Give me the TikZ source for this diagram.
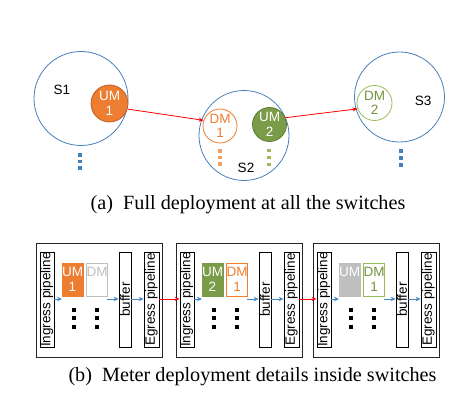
\documentclass[tikz,border=0pt]{standalone}
\usepackage{fontspec}
\setmainfont{Liberation Serif}
\newfontfamily\arialf{Liberation Sans}
\usetikzlibrary{arrows.meta}
\definecolor{sblue}{RGB}{70,128,188}
\definecolor{aorange}{RGB}{237,125,49}
\definecolor{aorangeD}{RGB}{190,95,40}
\definecolor{aorangeL}{RGB}{244,160,100}
\definecolor{agreen}{RGB}{122,155,72}
\definecolor{agreenD}{RGB}{95,125,50}
\definecolor{agreenL}{RGB}{155,187,89}
\definecolor{agreenT}{RGB}{118,146,60}
\definecolor{agray}{RGB}{191,191,191}
\definecolor{agrayD}{RGB}{170,170,170}
\definecolor{arrblue}{RGB}{65,135,200}
\begin{document}
\begin{tikzpicture}[x=1pt,y=-1pt,
  lab/.style={font=\arialf\fontsize{13.5}{15}\selectfont},
  sw/.style={circle,draw=sblue,line width=0.8pt,minimum size=#1,inner sep=0pt},
  mcirc/.style={circle,line width=0.8pt,minimum size=#1,inner sep=0pt,align=center,font=\arialf\fontsize{13.5}{14.5}\selectfont},
  vbox/.style={draw=black,line width=0.8pt,rotate=90,minimum width=95pt,minimum height=#1,inner sep=0pt,font=\arialf\fontsize{13.5}{15}\selectfont},
  mbox/.style={line width=0.9pt,minimum width=#1,minimum height=33pt,inner sep=0pt,align=center,font=\arialf\fontsize{13.5}{14.5}\selectfont},
  outer/.style={draw=black!85,line width=0.8pt,minimum width=126pt,minimum height=114pt,inner sep=0pt},
  sq/.style={rectangle,fill=#1,minimum size=3.6pt,inner sep=0pt},
  bsq/.style={rectangle,fill=black,minimum size=4pt,inner sep=0pt},
  redarr/.style={draw=red,line width=0.8pt,-{Stealth[length=5pt,width=4pt]}},
  bluearr/.style={draw=arrblue,line width=0.9pt,-{Stealth[length=5pt,width=4.5pt]}},
  captxt/.style={font=\fontsize{20.2}{24}\selectfont}
]
\useasboundingbox (0,0) rectangle (470,403);

% ---------- (a) ----------
\node[sw=94pt] (s1) at (81,98.5) {};
\node[sw=90pt] (s2) at (244,135.5) {};
\node[sw=90pt] (s3) at (399.5,97) {};
\node[lab] (s1l) at (62,90) {S1};
\node[lab] (s2l) at (246,168) {S2};
\node[lab] (s3l) at (423,101) {S3};

\node[mcirc=37pt,fill=aorange,draw=aorangeD,text=white] (um1) at (109.5,103.5) {UM\\1};
\node[mcirc=34pt,fill=white,draw=aorange,text=aorange] (dm1) at (220,126) {DM\\1};
\node[mcirc=34pt,fill=agreen,draw=agreenD,text=white] (um2) at (269.5,124.5) {UM\\2};
\node[mcirc=35pt,fill=white,draw=agreenL,text=agreenT] (dm2) at (374.5,103) {DM\\2};

\draw[redarr] (um1.-17) -- (dm1.161);
\draw[redarr] (um2.23) -- (dm2.199);

\foreach \y [count=\i] in {155,161.7,168.3}{\node[sq=sblue] (d1\i) at (80,\y) {};}
\foreach \y [count=\i] in {151,157.7,164.3}{\node[sq=aorangeL] (d2\i) at (220,\y) {};}
\foreach \y [count=\i] in {150.5,157.5,164.5}{\node[sq=agreenL] (d3\i) at (269,\y) {};}
\foreach \y [count=\i] in {151,158,165}{\node[sq=sblue] (d4\i) at (401,\y) {};}

\node[captxt] (capa) at (248,205) {(a)\ \ Full deployment at all the switches};

% ---------- (b) ----------
\foreach \o/\k in {0/1,140/2,277/3}{
  \node[outer] (box\k) at (99+\o,300) {};
  \node[vbox=14pt] (ing\k) at (47+\o,299.5) {Ingress pipeline};
  \node[vbox=12pt] (buf\k) at (125+\o,299.5) {buffer};
  \node[vbox=15pt] (egr\k) at (151.5+\o,299.5) {Egress pipeline};
  \coordinate (ua\k) at (62+\o,299);
  \coordinate (ub\k) at (107+\o,299);
  \foreach \y [count=\j] in {309.5,318,326.5}{
    \node[bsq] (ka\k\j) at (74+\o,\y) {};
    \node[bsq] (kb\k\j) at (97+\o,\y) {};
  }
}
\node[mbox=21pt,fill=aorange,draw=aorange,text=white] (bum1) at (72.5,279.5) {UM\\1};
\node[mbox=20pt,fill=white,draw=agray,text=agray] (bdm1) at (97,279.5) {DM\\\phantom{1}};
\node[mbox=21pt,fill=agreen,draw=agreen,text=white] (bum2) at (212.5,279.5) {UM\\2};
\node[mbox=20pt,fill=white,draw=aorange,text=aorange] (bdm2) at (237,279.5) {DM\\1};
\node[mbox=21pt,fill=agray,draw=agray,text=white] (bum3) at (349.5,279.5) {UM\\\phantom{1}};
\node[mbox=20pt,fill=white,draw=agreenL,text=agreenT] (bdm3) at (374,279.5) {DM\\1};

\foreach \k in {1,2,3}{
  \draw[bluearr] (ing\k.south |- ua\k) -- (ua\k);
  \draw[bluearr] (ub\k) -- (buf\k.north |- ub\k);
  \draw[bluearr] (buf\k.south |- ub\k) -- (egr\k.north |- ub\k);
}
\draw[redarr] (egr1.south |- ua1) -- (ing2.north |- ua1);
\draw[redarr] (egr2.south |- ua1) -- (ing3.north |- ua1);

\node[captxt] (capb) at (252.5,377) {(b)\ \ Meter deployment details inside switches};
\end{tikzpicture}
\end{document}
